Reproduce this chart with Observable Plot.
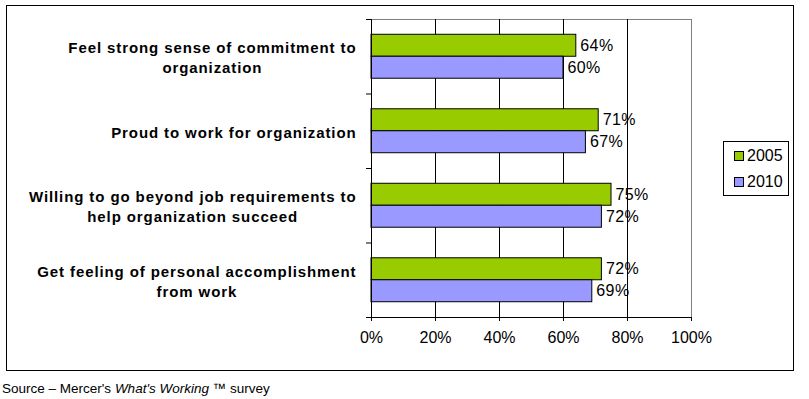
<!DOCTYPE html>
<html><head><meta charset="utf-8">
<script src="https://cdn.jsdelivr.net/npm/d3@7"></script>
<script src="https://cdn.jsdelivr.net/npm/@observablehq/plot@0.6"></script>
<style>
body{margin:0;background:#fff;font-family:"Liberation Sans",Arial,sans-serif;}
#wrap{position:relative;width:809px;height:399px;overflow:hidden;}
#frame{position:absolute;left:6px;top:5px;width:788px;height:366px;box-sizing:border-box;border:1px solid #000;}
#chart{position:absolute;left:0;top:0;}
#legend{position:absolute;left:723px;top:141px;width:66px;height:55px;box-sizing:border-box;border:1px solid #000;font-size:16px;color:#000;}
.item{position:absolute;left:10px;height:20px;line-height:20px;}
.sw{display:inline-block;width:8px;height:8px;border:1px solid #000;margin-right:3px;vertical-align:0px;box-sizing:content-box;}
#source{position:absolute;left:2px;top:381px;font-size:13.5px;color:#000;white-space:nowrap;}
</style></head>
<body>
<div id="wrap">
  <div id="chart"></div>
  <div id="frame"></div>
  <div id="legend"></div>
  <div id="source">Source – Mercer's <i>What's Working</i> ™ survey</div>
</div>
<script>
const categories = [
  "Feel strong sense of commitment to\norganization",
  "Proud to work for organization",
  "Willing to go beyond job requirements to\nhelp organization succeed",
  "Get feeling of personal accomplishment\nfrom work"
];
const years = ["2005", "2010"];
const values2005 = [64, 71, 75, 72];
const values2010 = [60, 67, 72, 69];
const xTicks = [0, 20, 40, 60, 80, 100];
const colors = ["#99CC00", "#9999FF"];

// layout (fractions of a category band)
const barStart = [0.205, 0.5];
const barH = 0.295;

const series = [values2005, values2010];
const rows = [];
categories.forEach((cat, i) => {
  years.forEach((yr, j) => {
    rows.push({cat, i, year: yr, value: series[j][i],
      y1: i + barStart[j], y2: i + barStart[j] + barH, ym: i + barStart[j] + barH / 2});
  });
});

const labelFont = 'bold 15px "Liberation Sans"';
const labelSpacing = 0.9;
const ctx = document.createElement("canvas").getContext("2d");
ctx.font = labelFont;
function lineWidth(s) { return ctx.measureText(s).width + labelSpacing * s.length; }

const labelMarks = categories.map((cat, i) => {
  const w = d3.max(cat.split("\n"), lineWidth);
  return Plot.text([{cat, i}], {
    x: () => 0, y: d => d.i + 0.5, text: "cat",
    textAnchor: "middle", lineAnchor: "middle", lineHeight: 1.35,
    dx: -(15 + w / 2), fontSize: 15, fontWeight: "bold", fill: "#000"
  });
});

const chart = Plot.plot({
  width: 809, height: 376,
  marginLeft: 371, marginRight: 118, marginTop: 19, marginBottom: 59,
  style: {fontFamily: '"Liberation Sans", Arial, sans-serif', background: "transparent", color: "#000"},
  x: {domain: [0, 100], label: null},
  y: {domain: [0, 4], reverse: true, axis: null},
  marks: [
    Plot.ruleY([0], {stroke: "#808080"}),
    Plot.ruleX([100], {stroke: "#808080"}),
    Plot.ruleX(xTicks.filter(t => t > 0 && t < 100), {stroke: "#000"}),
    Plot.rectX(rows, {x1: 0, x2: "value", y1: "y1", y2: "y2",
      fill: d => colors[years.indexOf(d.year)], stroke: "#000", strokeWidth: 1}),
    Plot.text(rows, {x: "value", y: "ym", text: d => d.value + "%", textAnchor: "start", dx: 4,
      fontSize: 16, fill: "#000", lineAnchor: "middle"}),
    Plot.axisY([0, 1, 2, 3, 4], {tickSize: 5, tickFormat: () => "", stroke: "#000"}),
    Plot.ruleX([0], {stroke: "#000"}),
    Plot.ruleY([4], {stroke: "#000"}),
    Plot.axisX(xTicks, {tickSize: 4, tickPadding: 10, tickFormat: d => d + "%", fontSize: 16, stroke: "#000", fill: "#000"}),
    ...labelMarks
  ]
});
document.getElementById("chart").append(chart);
d3.select(chart).selectAll('g[aria-label="text"]').each(function() {
  const bold = this.getAttribute("font-weight") === "bold";
  this.setAttribute("letter-spacing", bold ? labelSpacing + "px" : "0.4px");
});

const legend = d3.select("#legend");
years.forEach((yr, j) => {
  const it = legend.append("div").attr("class", "item").style("top", (4 + j * 26) + "px");
  it.append("span").attr("class", "sw").style("background", colors[j]);
  it.append("span").text(yr);
});
</script>
</body></html>
